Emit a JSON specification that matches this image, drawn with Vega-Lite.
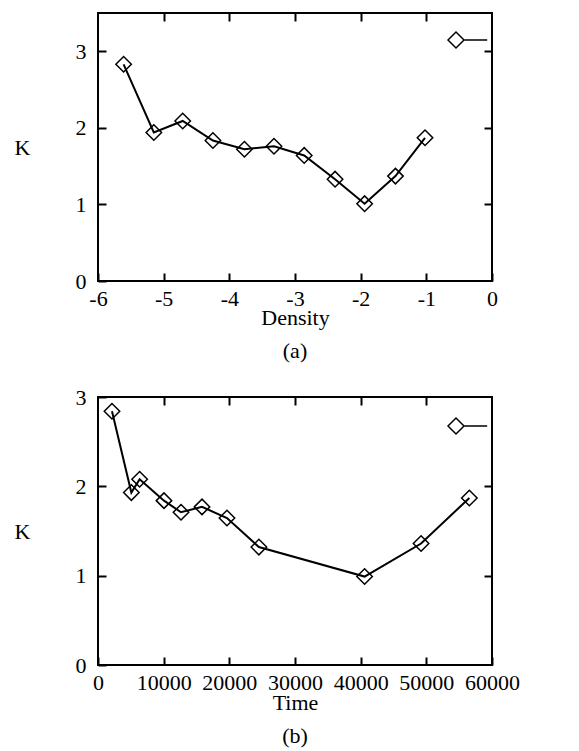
{
  "$schema": "https://vega.github.io/schema/vega-lite/v6.json",
  "background": "white",
  "padding": {"left": 13, "top": 11, "right": 5, "bottom": 5},
  "autosize": {"type": "pad"},
  "config": {
    "font": "Liberation Serif",
    "view": {"stroke": "black", "strokeWidth": 2},
    "axis": {"domain": false, "grid": false, "tickColor": "black", "tickWidth": 2, "tickSize": -8,
      "labelFont": "Liberation Serif", "labelFontSize": 22, "labelColor": "black",
      "titleFont": "Liberation Serif", "titleFontSize": 22, "titleFontWeight": "normal", "titleColor": "black",
      "labelFlush": false, "labelOverlap": false},
    "title": {"font": "Liberation Serif", "fontSize": 22, "fontWeight": "normal", "color": "black"}
  },
  "datasets": {
    "a": [
      {"density": -5.61, "K": 2.83},
      {"density": -5.15, "K": 1.94},
      {"density": -4.71, "K": 2.09},
      {"density": -4.25, "K": 1.835},
      {"density": -3.77, "K": 1.72},
      {"density": -3.32, "K": 1.76},
      {"density": -2.86, "K": 1.64},
      {"density": -2.39, "K": 1.33},
      {"density": -1.94, "K": 1.01},
      {"density": -1.47, "K": 1.37},
      {"density": -1.02, "K": 1.87}
    ],
    "b": [
      {"time": 2130, "K": 2.84},
      {"time": 5080, "K": 1.93},
      {"time": 6340, "K": 2.08},
      {"time": 10050, "K": 1.84},
      {"time": 12640, "K": 1.71},
      {"time": 15840, "K": 1.77},
      {"time": 19640, "K": 1.645},
      {"time": 24500, "K": 1.32},
      {"time": 40600, "K": 0.99},
      {"time": 49200, "K": 1.36},
      {"time": 56550, "K": 1.87}
    ]
  },
  "spacing": 22,
  "vconcat": [
    {
      "width": 394, "height": 268,
      "title": {"text": "(a)", "orient": "bottom", "anchor": "middle", "offset": 13},
      "data": {"name": "a"},
      "layer": [
        {
          "mark": {"type": "line", "color": "black", "strokeWidth": 2},
          "encoding": {
            "x": {"field": "density", "type": "quantitative", "scale": {"domain": [-6, 0], "nice": false},
              "axis": {"values": [-6, -5, -4, -3, -2, -1, 0], "labelExpr": "'' + datum.value", "title": "Density", "titleY": 26, "titleBaseline": "top", "labelPadding": 15}},
            "y": {"field": "K", "type": "quantitative", "scale": {"domain": [0, 3.5], "nice": false},
              "axis": {"values": [0, 1, 2, 3], "title": "K", "titleAngle": 0, "titleX": -76, "titleY": 134, "titleAlign": "center", "titleBaseline": "middle", "labelPadding": 20}}
          }
        },
        {
          "mark": {"type": "point", "shape": "diamond", "filled": false, "size": 240, "strokeWidth": 1.5, "opacity": 1},
          "encoding": {
            "x": {"field": "density", "type": "quantitative", "axis": {"orient": "top", "values": [-5, -4, -3, -2, -1], "labels": false, "title": null}},
            "y": {"field": "K", "type": "quantitative", "axis": {"orient": "right", "values": [1, 2, 3], "labels": false, "title": null}},
            "color": {"datum": "", "scale": {"range": ["black"]},
              "legend": {"orient": "none", "legendX": 349, "legendY": 18, "title": null, "padding": 0,
                "symbolType": "M-1,0L0,-1L1,0L0,1ZM1,0L3.9,0", "symbolSize": 256, "symbolStrokeWidth": 1.5,
                "symbolFillColor": "transparent", "symbolStrokeColor": "black", "labelFontSize": 1}}
          }
        }
      ],
      "resolve": {"axis": {"x": "independent", "y": "independent"}}
    },
    {
      "width": 394, "height": 268,
      "title": {"text": "(b)", "orient": "bottom", "anchor": "middle", "offset": 13},
      "data": {"name": "b"},
      "layer": [
        {
          "mark": {"type": "line", "color": "black", "strokeWidth": 2},
          "encoding": {
            "x": {"field": "time", "type": "quantitative", "scale": {"domain": [0, 60000], "nice": false},
              "axis": {"values": [0, 10000, 20000, 30000, 40000, 50000, 60000], "format": "d", "title": "Time", "titleY": 27, "titleBaseline": "top", "labelPadding": 15}},
            "y": {"field": "K", "type": "quantitative", "scale": {"domain": [0, 3], "nice": false},
              "axis": {"values": [0, 1, 2, 3], "title": "K", "titleAngle": 0, "titleX": -76, "titleY": 134, "titleAlign": "center", "titleBaseline": "middle", "labelPadding": 20}}
          }
        },
        {
          "mark": {"type": "point", "shape": "diamond", "filled": false, "size": 240, "strokeWidth": 1.5, "opacity": 1},
          "encoding": {
            "x": {"field": "time", "type": "quantitative", "axis": {"orient": "top", "values": [10000, 20000, 30000, 40000, 50000], "labels": false, "title": null}},
            "y": {"field": "K", "type": "quantitative", "axis": {"orient": "right", "values": [1, 2], "labels": false, "title": null}},
            "color": {"datum": "", "scale": {"range": ["black"]},
              "legend": {"orient": "none", "legendX": 349, "legendY": 20, "title": null, "padding": 0,
                "symbolType": "M-1,0L0,-1L1,0L0,1ZM1,0L3.9,0", "symbolSize": 256, "symbolStrokeWidth": 1.5,
                "symbolFillColor": "transparent", "symbolStrokeColor": "black", "labelFontSize": 1}}
          }
        }
      ],
      "resolve": {"axis": {"x": "independent", "y": "independent"}}
    }
  ],
  "resolve": {"scale": {"color": "independent"}, "legend": {"color": "independent"}}
}
